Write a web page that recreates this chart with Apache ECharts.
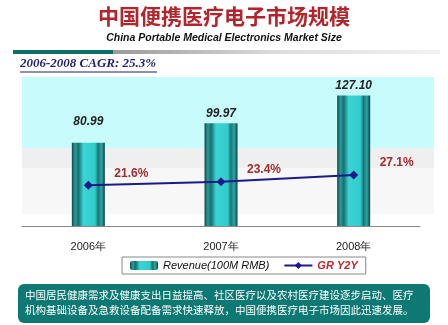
<!DOCTYPE html>
<html><head><meta charset="utf-8">
<script src="https://cdn.jsdelivr.net/npm/echarts@6/dist/echarts.min.js"></script>
<style>html,body{margin:0;padding:0;background:#fff}#c{width:448px;height:325px}</style>
</head><body><div id="c"></div>
<script>
const categories = ['2006年', '2007年', '2008年'];
const revenue = [80.99, 99.97, 127.10];
const growth = [21.6, 23.4, 27.1];
const titleText = '中国便携医疗电子市场规模';
const subtitleText = 'China Portable Medical Electronics Market Size';
const cagrText = '2006-2008 CAGR: 25.3%';
const noteLine1 = '中国居民健康需求及健康支出日益提高、社区医疗以及农村医疗建设逐步启动、医疗';
const noteLine2 = '机构基础设备及急救设备配备需求快速释放，中国便携医疗电子市场因此迅速发展。';

const chart = echarts.init(document.getElementById('c'), null, {renderer: 'canvas'});
const barGrad = new echarts.graphic.LinearGradient(0, 0, 1, 0, [
  {offset: 0, color: '#0c4a4a'},
  {offset: 0.1, color: '#2a9a9a'},
  {offset: 0.2, color: '#1a6e6e'},
  {offset: 0.35, color: '#3ad4d4'},
  {offset: 0.7, color: '#33cccc'},
  {offset: 0.8, color: '#1a7676'},
  {offset: 0.9, color: '#2ea6a6'},
  {offset: 1, color: '#0c3e3e'}
]);
const barData = revenue.map((v, i) => ({
  value: v,
  label: {distance: i === 0 ? 15 : 4}
}));
chart.setOption({
  animation: false,
  graphic: [
    {type: 'text', left: 'center', top: 6, style: {text: titleText, font: 'bold 21px "Noto Sans CJK SC"', fill: '#b5242b'}},
    {type: 'text', left: 'center', top: 33, style: {text: subtitleText, font: 'italic bold 10.5px "Liberation Sans"', fill: '#111'}},
    {type: 'rect', shape: {x: 13, y: 50, width: 100, height: 4}, style: {fill: '#0e6e68'}},
    {type: 'rect', shape: {x: 113, y: 50, width: 327, height: 4}, style: {fill: new echarts.graphic.LinearGradient(0, 0, 1, 0, [{offset: 0, color: '#9a9a9a'}, {offset: 0.5, color: '#dcdcdc'}, {offset: 1, color: '#f2f2f2'}])}},
    {type: 'text', left: 20, top: 57, style: {text: cagrText, font: 'italic bold 13px "Liberation Serif"', fill: '#1f1f78'}},
    {type: 'line', shape: {x1: 20, y1: 72, x2: 157, y2: 72}, style: {stroke: '#1f1f78', lineWidth: 1}},
    {type: 'rect', z: -10, shape: {x: 22, y: 77, width: 412, height: 71}, style: {fill: '#c8fcfc'}},
    {type: 'rect', z: -10, shape: {x: 22, y: 148, width: 412, height: 20}, style: {fill: '#efefef'}},
    {type: 'rect', z: -10, shape: {x: 22, y: 168, width: 412, height: 46}, style: {fill: '#f7f7f7'}},
    {type: 'rect', shape: {x: 18, y: 284, width: 412, height: 39, r: 6}, style: {fill: '#0e7872'}},
    {type: 'text', left: 25, top: 290, style: {text: noteLine1, font: '10.5px "Noto Sans CJK SC"', fill: '#ffffff'}},
    {type: 'text', left: 25, top: 305, style: {text: noteLine2, font: '10.5px "Noto Sans CJK SC"', fill: '#ffffff'}}
  ],
  grid: {left: 22, right: 28, top: 77, bottom: 99},
  legend: {
    left: 122, top: 257, width: 238,
    borderColor: '#888', borderWidth: 1, padding: [3, 8, 3, 8], itemGap: 14,
    itemWidth: 28, itemHeight: 9,
    data: [
      {name: 'Revenue(100M RMB)', textStyle: {fontStyle: 'italic', color: '#111', fontSize: 11, fontFamily: 'Liberation Sans'}},
      {name: 'GR Y2Y', textStyle: {fontStyle: 'italic', fontWeight: 'bold', color: '#c0282d', fontSize: 11, fontFamily: 'Liberation Sans'}}
    ]
  },
  xAxis: {
    type: 'category', data: categories,
    axisLine: {lineStyle: {color: '#888'}},
    axisTick: {inside: true, length: 4, lineStyle: {color: '#888'}},
    axisLabel: {color: '#222', fontSize: 11, margin: 15, fontFamily: 'Liberation Sans'}
  },
  yAxis: [
    {type: 'value', min: 0, max: 145, show: false, splitLine: {show: false}},
    {type: 'value', min: 0, max: 79, show: false, splitLine: {show: false}}
  ],
  series: [
    {
      name: 'Revenue(100M RMB)', type: 'bar', data: barData, barWidth: 33,
      itemStyle: {color: barGrad},
      label: {show: true, position: 'top', formatter: p => p.value.toFixed(2), color: '#222', fontSize: 12, fontStyle: 'italic', fontWeight: 'bold', fontFamily: 'Liberation Sans'}
    },
    {
      name: 'GR Y2Y', type: 'line', yAxisIndex: 1, data: growth,
      symbol: 'diamond', symbolSize: 9,
      lineStyle: {color: '#1a1a8c', width: 2}, itemStyle: {color: '#1a1a8c'},
      label: {show: true, position: 'inside', offset: [43, -12], formatter: p => p.value.toFixed(1) + '%', color: '#a52a2d', fontSize: 12, fontWeight: 'bold', fontFamily: 'Liberation Sans'}
    }
  ]
});
</script></body></html>
